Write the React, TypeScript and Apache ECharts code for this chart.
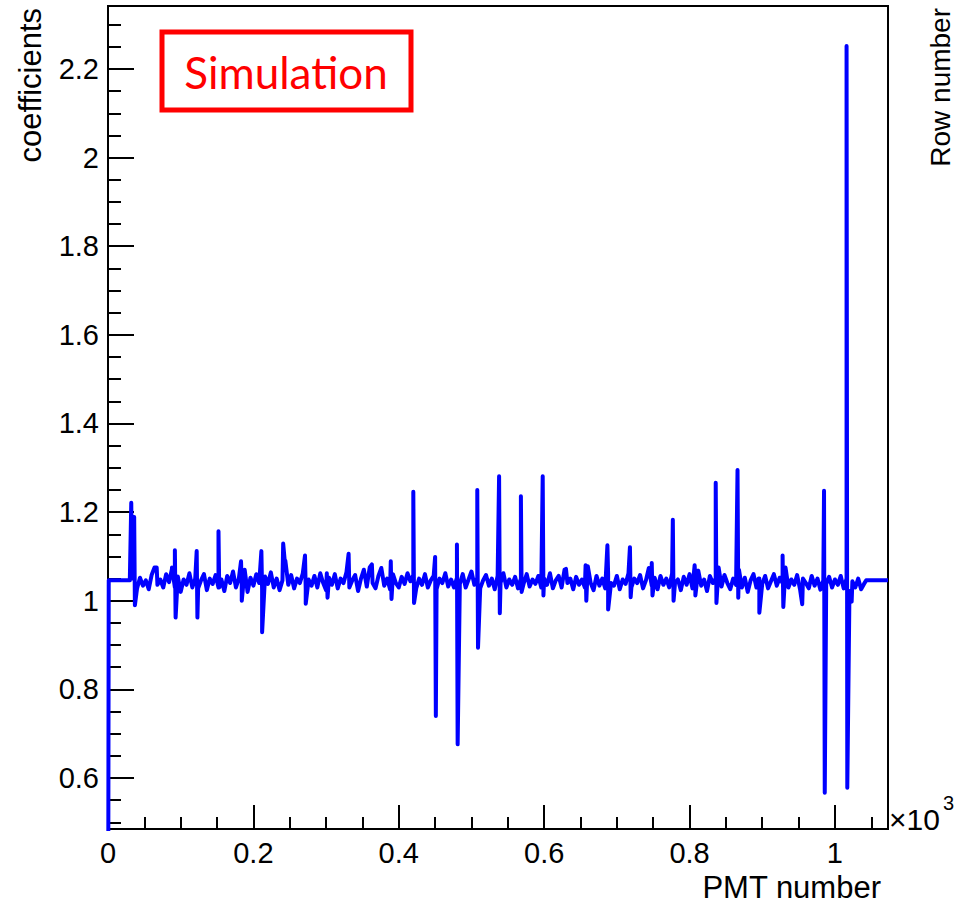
import React, { useEffect, useRef } from "react";
import * as echarts from "echarts";

// ---------- axis ranges & ticks ----------
const pmtAxisMin = 0;
const pmtAxisMax = 1073;
const coefAxisMin = 0.485;
const coefAxisMax = 2.342;

const pmtMajorTicks = [0, 200, 400, 600, 800, 1000];
const pmtMinorTicks = [50, 100, 150, 250, 300, 350, 450, 500, 550, 650, 700, 750, 850, 900, 950, 1050];
const coefMajorTicks = [0.6, 0.8, 1, 1.2, 1.4, 1.6, 1.8, 2, 2.2];
const coefMinorTicks = [
  0.5, 0.55, 0.65, 0.7, 0.75, 0.85, 0.9, 0.95, 1.05, 1.1, 1.15, 1.25, 1.3, 1.35,
  1.45, 1.5, 1.55, 1.65, 1.7, 1.75, 1.85, 1.9, 1.95, 2.05, 2.1, 2.15, 2.25, 2.3,
];

// ---------- data ----------
// flat / edge segments of the curve [PMT number, coefficient]
const edgePoints: [number, number][] = [
  [0, 0],
  [1, 1.046],
  [30, 1.046],
  [1043, 1.046],
  [1073, 1.046],
];

// baseline fluctuation, one value every 4 PMTs starting at PMT 40
const noiseStartPmt = 40;
const noiseStepPmt = 4;
const noiseCoefficients = [
  1.028, 1.052, 1.034, 1.046, 1.026, 1.058, 1.075, 1.036, 1.048, 1.03,
  1.06, 1.042, 1.072, 1.03, 1.055, 1.02, 1.048, 1.036, 1.062, 1.03,
  1.05, 1.028, 1.046, 1.06, 1.024, 1.05, 1.038, 1.058, 1.03, 1.048,
  1.022, 1.056, 1.04, 1.066, 1.03, 1.05, 1.035, 1.07, 1.02, 1.052,
  1.034, 1.06, 1.04, 1.025, 1.055, 1.038, 1.064, 1.03, 1.05, 1.024,
  1.046, 1.09, 1.036, 1.058, 1.028, 1.05, 1.04, 1.062, 1.026, 1.048,
  1.034, 1.056, 1.03, 1.062, 1.04, 1.024, 1.052, 1.036, 1.06, 1.028,
  1.05, 1.04, 1.064, 1.03, 1.046, 1.058, 1.022, 1.05, 1.07, 1.032,
  1.075, 1.04, 1.028, 1.056, 1.074, 1.034, 1.05, 1.026, 1.06, 1.04,
  1.03, 1.054, 1.038, 1.062, 1.044, 1.058, 1.028, 1.05, 1.036, 1.06,
  1.03, 1.046, 1.056, 1.026, 1.05, 1.04, 1.062, 1.032, 1.048, 1.03,
  1.052, 1.038, 1.06, 1.03, 1.048, 1.066, 1.036, 1.052, 1.028, 1.046,
  1.058, 1.034, 1.05, 1.026, 1.056, 1.04, 1.062, 1.03, 1.048, 1.036,
  1.054, 1.028, 1.05, 1.04, 1.06, 1.032, 1.048, 1.038, 1.056, 1.03,
  1.05, 1.036, 1.062, 1.028, 1.046, 1.056, 1.03, 1.07, 1.04, 1.05,
  1.026, 1.054, 1.036, 1.048, 1.03, 1.078, 1.04, 1.024, 1.056, 1.034,
  1.05, 1.028, 1.06, 1.04, 1.034, 1.056, 1.026, 1.048, 1.038, 1.062,
  1.03, 1.05, 1.04, 1.058, 1.028, 1.046, 1.074, 1.034, 1.052, 1.026,
  1.056, 1.036, 1.05, 1.03, 1.062, 1.04, 1.048, 1.024, 1.054, 1.036,
  1.06, 1.028, 1.05, 1.068, 1.034, 1.048, 1.022, 1.056, 1.04, 1.05,
  1.075, 1.032, 1.058, 1.04, 1.026, 1.05, 1.036, 1.07, 1.03, 1.052,
  1.02, 1.046, 1.06, 1.03, 1.05, 1.038, 1.056, 1.028, 1.044, 1.06,
  1.034, 1.052, 1.04, 1.075, 1.03, 1.048, 1.036, 1.058, 1.026, 1.05,
  1.04, 1.028, 1.056, 1.034, 1.05, 1.025, 1.046, 1.038, 1.054, 1.03,
  1.048, 1.036, 1.056, 1.028, 1.05, 1.022, 1.044, 1.03, 1.05, 1.026,
  1.038,
];

// outlier PMTs [PMT number, coefficient]
const spikePoints: [number, number][] = [
  [32, 1.221], [33, 1.05], [36, 1.189], [37, 0.99],
  [67, 1.075], [88, 1.075],
  [92, 1.114], [93, 0.962],
  [122, 1.112], [123, 0.962],
  [152, 1.157], [153, 1.03],
  [183, 1.089], [184, 1.0],
  [211, 1.112], [212, 0.929],
  [241, 1.129], [243, 1.092],
  [271, 1.102], [272, 0.993],
  [301, 1.062], [302, 1.007],
  [331, 1.106], [332, 1.03],
  [363, 1.082], [364, 1.04],
  [389, 1.089], [390, 1.004],
  [420, 1.246], [421, 0.995],
  [450, 1.099], [451, 0.74],
  [480, 1.127], [481, 0.676],
  [508, 1.25], [509, 0.894],
  [538, 1.281], [539, 0.972],
  [568, 1.236], [569, 1.02],
  [598, 1.281], [599, 1.012],
  [630, 1.072],
  [657, 1.08], [658, 1.0],
  [687, 1.125], [688, 0.98],
  [718, 1.121], [719, 1.008],
  [748, 1.085], [749, 1.012],
  [777, 1.183], [778, 1.0],
  [807, 1.08], [808, 1.012],
  [836, 1.266], [837, 0.995],
  [866, 1.295], [867, 1.007],
  [895, 1.05], [896, 0.973],
  [928, 1.102], [929, 0.986],
  [955, 0.992],
  [985, 1.248], [986, 0.567],
  [1016, 2.252], [1017, 0.578],
  [1023, 0.998],
];

function buildCurve(): [number, number][] {
  const pts: [number, number][] = [];
  edgePoints.forEach((p) => pts.push(p));
  noiseCoefficients.forEach((v, i) => pts.push([noiseStartPmt + i * noiseStepPmt, v]));
  spikePoints.forEach((p) => pts.push(p));
  return pts
    .map((p, i) => ({ p, i }))
    .sort((a, b) => a.p[0] - b.p[0] || a.i - b.i)
    .map((o) => o.p);
}

const FONT = "'Liberation Sans', Arial, Helvetica, sans-serif";

export default function App() {
  const ref = useRef<HTMLDivElement>(null);

  useEffect(() => {
    document.body.style.margin = "0";
    if (!ref.current) return;
    const chart = echarts.init(ref.current, undefined, { renderer: "svg" });

    const fmtCoef = (v: number) => String(Number(v.toFixed(2)));
    const fmtPmt = (v: number) => String(Number((v / 1000).toFixed(2)));

    const tickStyle = { color: "#000", width: 2 };

    chart.setOption({
      animation: false,
      backgroundColor: "#fff",
      grid: {
        left: 108,
        right: 75,
        top: 6,
        bottom: 75,
        show: true,
        borderColor: "#000",
        borderWidth: 2,
        backgroundColor: "transparent",
        containLabel: false,
        outerBoundsMode: "none",
      },
      xAxis: [
        {
          type: "value",
          position: "bottom",
          min: pmtAxisMin,
          max: pmtAxisMax,
          axisLine: { show: true, onZero: false, lineStyle: tickStyle },
          axisTick: { show: true, inside: true, length: 24, lineStyle: tickStyle, customValues: pmtMajorTicks },
          axisLabel: {
            show: true,
            customValues: pmtMajorTicks,
            formatter: fmtPmt,
            fontFamily: FONT,
            fontSize: 29,
            color: "#000",
            margin: 9,
          },
          splitLine: { show: false },
        },
        {
          type: "value",
          position: "bottom",
          min: pmtAxisMin,
          max: pmtAxisMax,
          axisLine: { show: false, onZero: false },
          axisTick: { show: true, inside: true, length: 12, lineStyle: tickStyle, customValues: pmtMinorTicks },
          axisLabel: { show: false },
          splitLine: { show: false },
        },
      ],
      yAxis: [
        {
          type: "value",
          position: "left",
          min: coefAxisMin,
          max: coefAxisMax,
          axisLine: { show: true, onZero: false, lineStyle: tickStyle },
          axisTick: { show: true, inside: true, length: 26, lineStyle: tickStyle, customValues: coefMajorTicks },
          axisLabel: {
            show: true,
            customValues: coefMajorTicks,
            formatter: fmtCoef,
            fontFamily: FONT,
            fontSize: 29,
            color: "#000",
            margin: 9,
          },
          splitLine: { show: false },
        },
        {
          type: "value",
          position: "left",
          min: coefAxisMin,
          max: coefAxisMax,
          axisLine: { show: false, onZero: false },
          axisTick: { show: true, inside: true, length: 13, lineStyle: tickStyle, customValues: coefMinorTicks },
          axisLabel: { show: false },
          splitLine: { show: false },
        },
      ],
      series: [
        {
          type: "line",
          xAxisIndex: 0,
          yAxisIndex: 0,
          data: buildCurve(),
          showSymbol: false,
          symbol: "none",
          clip: true,
          lineStyle: { color: "#0000ff", width: 4, join: "round" },
          z: 3,
        },
      ],
      graphic: [
        {
          type: "rect",
          shape: { x: 162, y: 32, width: 249, height: 78 },
          style: { fill: "none", stroke: "#ff0000", lineWidth: 5 },
          z: 10,
        },
        {
          type: "text",
          x: 286,
          y: 72,
          style: {
            text: "Simulation",
            fill: "#ff0000",
            font: "44px Lato, 'Open Sans', sans-serif",
            align: "center",
            verticalAlign: "middle",
          },
          z: 10,
        },
        {
          type: "text",
          x: 30,
          y: 8,
          rotation: Math.PI / 2,
          style: {
            text: "coefficients",
            fill: "#000",
            font: `31px ${FONT}`,
            align: "right",
            verticalAlign: "middle",
          },
        },
        {
          type: "text",
          x: 940,
          y: 8,
          rotation: Math.PI / 2,
          style: {
            text: "Row number",
            fill: "#000",
            font: `28px ${FONT}`,
            align: "right",
            verticalAlign: "middle",
          },
        },
        {
          type: "text",
          x: 881,
          y: 887,
          style: {
            text: "PMT number",
            fill: "#000",
            font: `31px ${FONT}`,
            align: "right",
            verticalAlign: "middle",
          },
        },
        {
          type: "text",
          x: 889,
          y: 819,
          style: {
            text: "×10",
            fill: "#000",
            font: `30px ${FONT}`,
            align: "left",
            verticalAlign: "middle",
          },
        },
        {
          type: "text",
          x: 943,
          y: 803,
          style: {
            text: "3",
            fill: "#000",
            font: `20px ${FONT}`,
            align: "left",
            verticalAlign: "middle",
          },
        },
      ],
    });

    return () => chart.dispose();
  }, []);

  return <div ref={ref} style={{ width: 963, height: 904 }} />;
}
